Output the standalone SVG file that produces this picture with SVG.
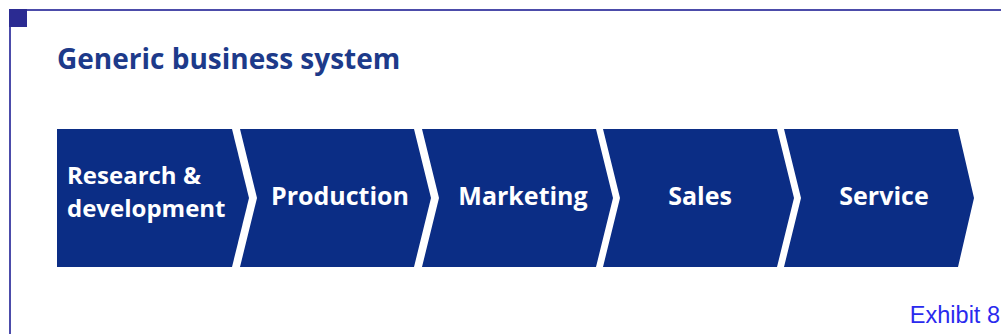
<svg xmlns="http://www.w3.org/2000/svg" width="1001" height="334" viewBox="0 0 1001 334">
<style>
.frame{stroke:#4c4caa;stroke-width:2;fill:none}
.box{fill:#0b2d85}
.lbl{font-family:"Open Sans","Liberation Sans",sans-serif;font-weight:bold;font-size:25px;fill:#ffffff}
.lbl2{font-size:24px}
.title{font-family:"Open Sans","Liberation Sans",sans-serif;font-weight:bold;font-size:28px;fill:#1d3a8a}
.exh{font-family:"Liberation Sans",Arial,sans-serif;font-size:23.5px;fill:#2a2aee}
</style>
<rect width="1001" height="334" fill="#ffffff"/>
<g id="frame">
<path class="frame" d="M10,334 V10 H1001"/>
<rect x="9" y="9" width="18" height="18" fill="#2b2b92"/>
</g>
<text id="title" class="title" x="57" y="69">Generic business system</text>
<g id="connectors"></g>
<g id="n1"><path class="box" d="M57,129 H232 L249,198 L232,267 H57 Z"/><text class="lbl lbl2" x="67" y="184">Research &amp;</text><text class="lbl lbl2" x="67" y="217">development</text></g>
<g id="n2"><path class="box" d="M240,129 H414 L431,198 L414,267 H240 L257,198 Z"/><text class="lbl" x="340" y="205" text-anchor="middle">Production</text></g>
<g id="n3"><path class="box" d="M422,129 H596 L613,198 L596,267 H422 L439,198 Z"/><text class="lbl" x="523" y="205" text-anchor="middle">Marketing</text></g>
<g id="n4"><path class="box" d="M603,129 H777 L794,198 L777,267 H603 L620,198 Z"/><text class="lbl" x="700" y="205" text-anchor="middle">Sales</text></g>
<g id="n5"><path class="box" d="M784,129 H958 L974,198 L958,267 H784 L801,198 Z"/><text class="lbl" x="884" y="205" text-anchor="middle">Service</text></g>
<text id="exhibit" class="exh" x="1000" y="323" text-anchor="end">Exhibit 8</text>
</svg>
